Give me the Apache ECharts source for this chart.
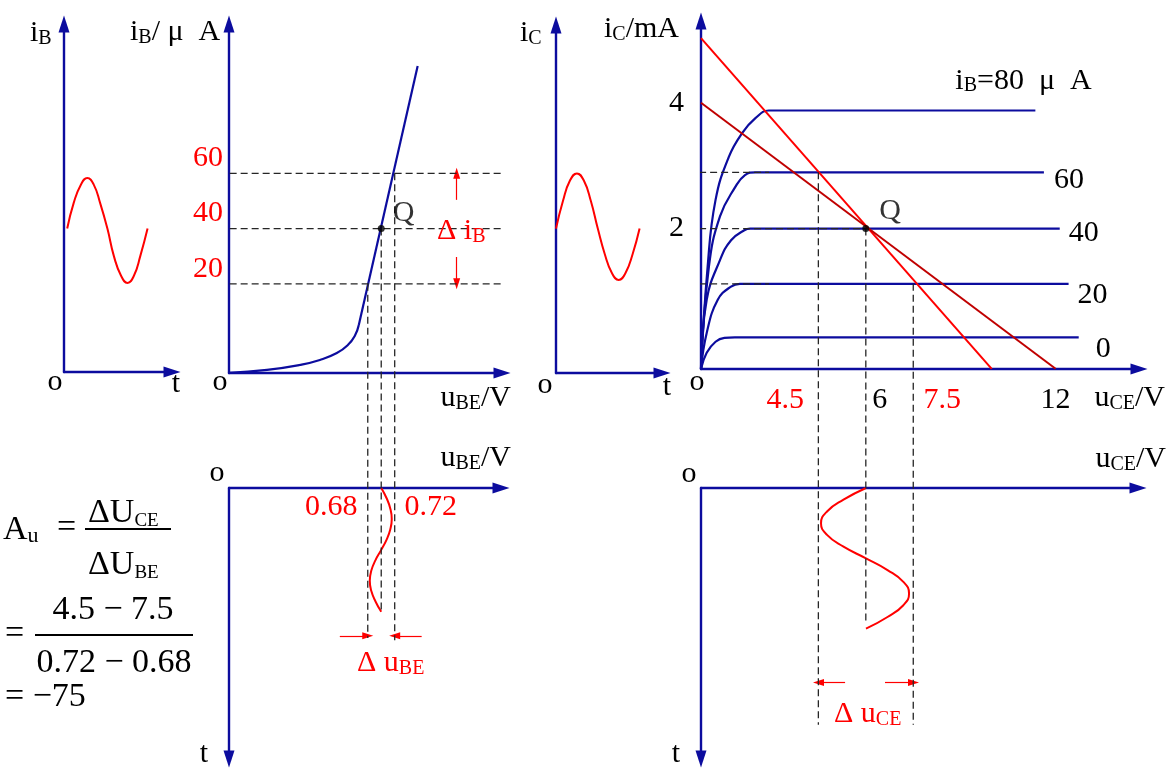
<!DOCTYPE html>
<html>
<head>
<meta charset="utf-8">
<title>Graphical analysis of a common-emitter amplifier</title>
<script src="https://cdn.jsdelivr.net/npm/echarts@6.0.0/dist/echarts.min.js"></script>
<style>
html, body { margin: 0; padding: 0; background: #ffffff; }
#chart { width: 1172px; height: 778px; }
</style>
</head>
<body>
<div id="chart"></div>
<script>
// ================= DATA =================
// time samples, in signal periods
const tWave   = [0, 0.083, 0.167, 0.25, 0.333, 0.417, 0.5, 0.583, 0.667, 0.75, 0.833, 0.917, 1.0];
const tWaveIb = [0.04, 0.12, 0.21, 0.29, 0.37, 0.45, 0.54, 0.62, 0.71, 0.79, 0.87, 0.95, 1.04];
// base current wave iB (µA)
const ibWave  = [40, 49.2, 55.9, 58.3, 55.9, 49.2, 40, 30.1, 22.9, 20.3, 22.9, 30.1, 40];
// collector current wave iC (mA)
const icWave  = [2, 2.5, 2.87, 3.0, 2.87, 2.5, 2, 1.54, 1.2, 1.07, 1.2, 1.54, 2];
// base-emitter voltage wave uBE (V)
const ubeWave = [0.700, 0.708, 0.7135, 0.7156, 0.7135, 0.708, 0.700, 0.6915, 0.6853, 0.683, 0.6853, 0.6915, 0.700];
// collector-emitter voltage wave uCE (V)
const uceWave = [6, 5.29, 4.77, 4.58, 4.77, 5.29, 6, 6.68, 7.18, 7.36, 7.18, 6.68, 6];

// input characteristic iB(uBE): curved foot and straight part
const inKneeU = [0.474, 0.5304, 0.5793, 0.6089, 0.6341, 0.6504, 0.6607, 0.6667];
const inKneeI = [-12.3, -11.2, -9.4, -7.6, -5.1, -2.2, 1.1, 5.1];
const inLinU  = [0.6667, 0.7541];
const inLinI  = [5.1, 98.9];

// operating point and swings
const ibTicks  = [20, 40, 60];        // µA
const ubeAt    = [0.68, 0.70, 0.72];  // V, where the iB levels meet the input line
const ubeTicks = [0.68, 0.72];
const qIn  = [0.70, 40];
const qOut = [6, 2];
const icLevels = [1.0, 2.0, 3.02];    // mA, for iB = 20, 40, 60 µA
const uceAt    = [7.5, 6, 4.5];       // V, where the AC load line meets them
const uceTicks = [4.5, 6, 7.5, 12];

// output characteristics iC(uCE), one curve per iB
const outU0  = [0.79, 0.97, 1.25, 1.53, 1.86, 12.73];
const outI0  = [-0.54, -0.25, -0.05, 0.02, 0.03, 0.03];
const outU20 = [0.79, 0.97, 1.32, 1.74, 2.02, 2.4, 12.41];
const outI20 = [-0.54, 0.11, 0.71, 0.95, 1.0, 1.0, 1.0];
const outU40 = [0.79, 0.97, 1.39, 1.74, 2.16, 2.34, 2.7, 12.13];
const outI40 = [-0.54, 0.71, 1.43, 1.79, 1.97, 2.0, 2.0, 2.0];
const outU60 = [0.79, 1.04, 1.39, 1.88, 2.18, 2.51, 2.9, 11.63];
const outI60 = [-0.54, 1.31, 2.22, 2.76, 2.97, 3.02, 3.02, 3.02];
const outU80 = [0.79, 1.0, 1.25, 1.67, 2.09, 2.51, 2.93, 3.3, 11.36];
const outI80 = [-0.54, 1.31, 2.52, 3.30, 3.73, 4.0, 4.14, 4.14, 4.14];
const outNames = ['0', '20', '40', '60', '80'];

// load lines (AC: bright red, DC: dark red)
const acU = [0.79, 9.98];
const acI = [5.45, -0.54];
const dcU = [0.79, 12];
const dcI = [4.28, -0.54];

// ================= STYLE / LAYOUT =================
const BLUE = '#0c0c9e', RED = '#ff0000', DARK = '#c00000', INK = '#000000', DASHC = '#262626';
const FONT = 'Liberation Serif';
const zip = (a, b) => a.map((v, i) => [v, b[i]]);

const grids = [
  {left: 64,  top: 24,  width: 108, height: 348},  // iB - t
  {left: 229, top: 24,  width: 273, height: 349},  // input characteristic
  {left: 556, top: 25,  width: 106, height: 348},  // iC - t
  {left: 701, top: 21,  width: 438, height: 348},  // output characteristics
  {left: 229, top: 488, width: 272, height: 271},  // uBE - t
  {left: 701, top: 488, width: 437, height: 271}   // uCE - t
].map(g => Object.assign({show: false, containLabel: false, outerBoundsMode: 'none'}, g));

const lineUp = {show: true, onZero: false, symbol: ['none', 'triangle'], symbolSize: [11, 17],
  lineStyle: {color: BLUE, width: 2.4}};
const lineDown = {show: true, onZero: false, symbol: ['triangle', 'none'], symbolSize: [11, 17],
  lineStyle: {color: BLUE, width: 2.4}};

function mkAxis(gi, min, max, extra) {
  return Object.assign({
    type: 'value', gridIndex: gi, min: min, max: max,
    axisLine: lineUp, axisTick: {show: false}, splitLine: {show: false},
    axisLabel: {show: false}, axisPointer: {show: false}
  }, extra || {});
}
function richSet(size, subSize, color) {
  return {
    m: {fontSize: size, fontFamily: FONT, color: color, fill: color, lineHeight: Math.round(size * 1.15), verticalAlign: 'bottom'},
    s: {fontSize: subSize, fontFamily: FONT, color: color, fill: color, lineHeight: subSize, verticalAlign: 'bottom'}
  };
}
function lineS(gi, data, color, width, extra) {
  return Object.assign({type: 'line', xAxisIndex: gi, yAxisIndex: gi, data: data, symbol: 'none',
    silent: true, z: 4, lineStyle: {color: color, width: width}}, extra || {});
}
function guide(gi, data) {
  return {type: 'line', xAxisIndex: gi, yAxisIndex: gi, data: data, symbol: 'none', silent: true,
    clip: false, z: 5, lineStyle: {color: DASHC, width: 1.3, type: [7, 4]}};
}
function arrows(pairs) {
  return {silent: true, symbol: ['none', 'triangle'], symbolSize: [7, 11], label: {show: false},
    lineStyle: {color: RED, width: 1.2, type: 'solid'}, emphasis: {disabled: true},
    data: pairs.map(p => [{coord: p[0]}, {coord: p[1]}])};
}
const tickFont = {fontSize: 30, fontFamily: FONT, fontWeight: 'normal'};

// guide extents (projection lines) in axis units
const inGuideLeft = 0.23, inGuideRight = 0.879;
const inDrop = [-108.3, -98.9, -109.1];
const outGuideLeft = -3.79, outKneeEnd = 2.94;
const outDrop = [-6.99, -5.13, -6.99];

const series = [];
// iB - t wave
series.push(lineS(0, zip(tWaveIb, ibWave), RED, 2, {smooth: true}));
// input characteristic
series.push(lineS(1, zip(inKneeU, inKneeI), BLUE, 2.2, {smooth: true}));
series.push(lineS(1, zip(inLinU, inLinI), BLUE, 2.2));
ibTicks.forEach((lv, i) => {
  series.push(guide(1, [[inGuideLeft, lv], [inGuideRight, lv]]));
  const g = guide(1, [[ubeAt[i], lv], [ubeAt[i], inDrop[i]]]);
  if (i === 2) g.markLine = arrows([[[0.812, 50.4], [0.812, 60]], [[0.812, 29.7], [0.812, 20]]]);
  series.push(g);
});
series.push({type: 'scatter', xAxisIndex: 1, yAxisIndex: 1, data: [qIn], symbolSize: 7, silent: true, z: 8,
  itemStyle: {color: INK},
  label: Object.assign({show: true, formatter: 'Q', position: 'right', offset: [3, -15], color: INK}, tickFont)});
// iC - t wave
series.push(lineS(2, zip(tWave, icWave), RED, 2, {smooth: true}));
// output characteristics
const outU = [outU0, outU20, outU40, outU60, outU80];
const outI = [outI0, outI20, outI40, outI60, outI80];
const endOffsets = [[9, 9], [1, 9], [1, 2], [2, 5], [-88, -32]];
outU.forEach((u, k) => {
  series.push(lineS(3, zip(u, outI[k]), BLUE, 2.2, {
    smooth: 0.45,
    endLabel: Object.assign({show: true, offset: endOffsets[k],
      formatter: k === 4 ? () => '{m|i}{s|B}{m|=' + outNames[k] + '  μ  A}' : () => '{m|' + outNames[k] + '}',
      rich: richSet(30, 20, INK), color: INK}, tickFont)
  }));
});
series.push(lineS(3, zip(acU, acI), RED, 2));
series.push(lineS(3, zip(dcU, dcI), DARK, 2));
icLevels.forEach((lv, i) => {
  series.push(guide(3, [[outGuideLeft, lv], [i === 1 ? qOut[0] : outKneeEnd, lv]]));
  series.push(guide(3, [[uceAt[i], lv], [uceAt[i], outDrop[i]]]));
});
series.push({type: 'scatter', xAxisIndex: 3, yAxisIndex: 3, data: [qOut], symbolSize: 7, silent: true, z: 8,
  itemStyle: {color: INK},
  label: Object.assign({show: true, formatter: 'Q', position: 'right', offset: [5, -17], color: INK}, tickFont)});
// uBE - t wave
const ubeS = lineS(4, zip(ubeWave, tWave), RED, 2, {smooth: true});
ubeS.markLine = arrows([[[0.6385, 1.194], [0.68, 1.194]], [[0.76, 1.194], [0.72, 1.194]]]);
series.push(ubeS);
// uCE - t wave
const uceS = lineS(5, zip(uceWave, tWave), RED, 2, {smooth: true});
uceS.markLine = arrows([[[5.34, 1.383], [4.5, 1.383]], [[6.6, 1.383], [7.5, 1.383]]]);
series.push(uceS);

// ---------- text annotations ----------
function txt(x, y, text, o) {
  o = o || {};
  const size = o.size || 30, subSize = o.sub || 20, color = o.color || INK;
  return {type: 'text', x: x, y: y, silent: true, z: 100, style: {
    text: text, fill: color, fontSize: size, fontFamily: FONT,
    align: o.align || 'left', verticalAlign: 'middle', rich: richSet(size, subSize, color)}};
}
const S = (m, s) => '{m|' + m + '}{s|' + s + '}';
const M = (m) => '{m|' + m + '}';
const graphic = [
  txt(30, 31, S('i', 'B')),
  txt(130, 30, S('i', 'B') + M('/ μ  A')),
  txt(520, 31, S('i', 'C')),
  txt(604, 27, S('i', 'C') + M('/mA')),
  txt(55, 380, M('o'), {align: 'center'}),
  txt(176, 382, M('t'), {align: 'center'}),
  txt(220, 380, M('o'), {align: 'center'}),
  txt(511, 396, S('u', 'BE') + M('/V'), {align: 'right'}),
  txt(545, 383, M('o'), {align: 'center'}),
  txt(667, 385, M('t'), {align: 'center'}),
  txt(697, 380, M('o'), {align: 'center'}),
  txt(1165, 396, S('u', 'CE') + M('/V'), {align: 'right'}),
  txt(217, 471, M('o'), {align: 'center'}),
  txt(511, 456, S('u', 'BE') + M('/V'), {align: 'right'}),
  txt(204, 752, M('t'), {align: 'center'}),
  txt(689, 472, M('o'), {align: 'center'}),
  txt(1166, 457, S('u', 'CE') + M('/V'), {align: 'right'}),
  txt(676, 752, M('t'), {align: 'center'}),
  txt(437, 229, S('Δ i', 'B'), {color: RED}),
  txt(357, 661, S('Δ u', 'BE'), {color: RED}),
  txt(834, 712, S('Δ u', 'CE'), {color: RED}),
  // voltage gain
  txt(3, 528, S('A', 'u'), {size: 34, sub: 22}),
  txt(57, 526, M('='), {size: 34}),
  txt(88, 511, S('ΔU', 'CE'), {size: 34, sub: 19}),
  {type: 'line', silent: true, shape: {x1: 85, y1: 529, x2: 171, y2: 529}, style: {stroke: INK, lineWidth: 1.8}},
  txt(88, 563, S('ΔU', 'BE'), {size: 34, sub: 19}),
  txt(5, 632, M('='), {size: 34}),
  {type: 'line', silent: true, shape: {x1: 35, y1: 635, x2: 193, y2: 635}, style: {stroke: INK, lineWidth: 1.8}},
  txt(113, 608, M('4.5 − 7.5'), {size: 34, align: 'center'}),
  txt(114, 661, M('0.72 − 0.68'), {size: 34, align: 'center'}),
  txt(5, 695, M('= −75'), {size: 34})
];

const option = {
  animation: false,
  backgroundColor: '#ffffff',
  textStyle: {fontFamily: FONT},
  grid: grids,
  xAxis: [
    mkAxis(0, 0, 1.344),
    mkAxis(1, 0.474, 0.8793),
    mkAxis(2, 0, 1.268),
    mkAxis(3, 0.79, 14.636, {axisLabel: Object.assign({show: true, customValues: uceTicks, margin: 16, color: INK,
      formatter: v => v === uceAt[2] ? '{lo|' + v + '}' : v === uceAt[0] ? '{hi|' + v + '}' : v === qOut[0] ? '{q|' + v + '}' : '{n|' + v + '}',
      rich: {
        lo: Object.assign({color: RED, padding: [0, 66, 0, 0]}, tickFont),
        hi: Object.assign({color: RED, padding: [0, 0, 0, 58]}, tickFont),
        q:  Object.assign({color: INK, padding: [0, 0, 0, 28]}, tickFont),
        n:  Object.assign({color: INK}, tickFont)
      }}, tickFont)}),
    mkAxis(4, 0.474, 0.8778, {position: 'top', axisLabel: Object.assign({show: true, customValues: ubeTicks, inside: true, margin: 4,
      color: RED,
      formatter: v => v < qIn[0] ? '{lo|' + v.toFixed(2) + '}' : '{hi|' + v.toFixed(2) + '}',
      rich: {
        lo: Object.assign({color: RED, padding: [0, 73, 0, 0]}, tickFont),
        hi: Object.assign({color: RED, padding: [0, 0, 0, 72]}, tickFont)
      }}, tickFont)}),
    mkAxis(5, 0.79, 14.59, {position: 'top'})
  ],
  yAxis: [
    mkAxis(0, -11.96, 114.1),
    mkAxis(1, -12.32, 114.1, {axisLabel: Object.assign({show: true, customValues: ibTicks, color: RED,
      margin: 6, verticalAlign: 'bottom'}, tickFont)}),
    mkAxis(2, -0.616, 5.688),
    mkAxis(3, -0.5435, 5.761, {axisLabel: Object.assign({show: true, customValues: [qOut[1], dcI[0]], color: INK,
      margin: 17, formatter: v => String(Math.round(v))}, tickFont)}),
    mkAxis(4, 0, 2.19, {inverse: true, axisLine: lineDown}),
    mkAxis(5, 0, 1.926, {inverse: true, axisLine: lineDown})
  ],
  series: series,
  graphic: graphic
};

const chart = echarts.init(document.getElementById('chart'), null, {renderer: 'canvas'});
chart.setOption(option);
</script>
</body>
</html>
